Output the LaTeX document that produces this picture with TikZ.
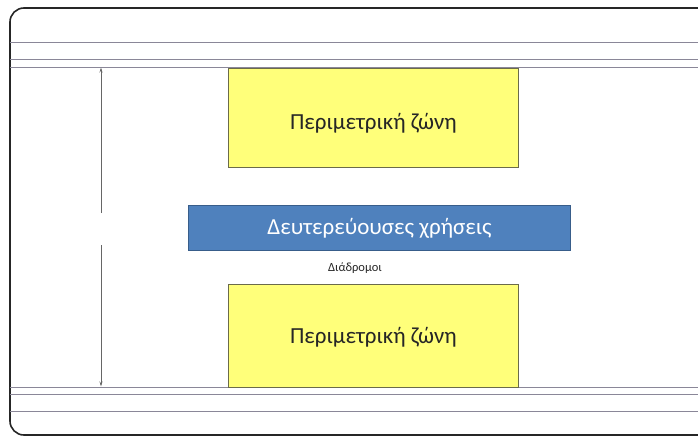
\documentclass[tikz,border=0pt]{standalone}
\usepackage{fontspec}
\setmainfont{Carlito}
\usetikzlibrary{arrows.meta}
\definecolor{zoneyellow}{HTML}{FFFF7A}
\definecolor{zoneborder}{HTML}{6B6B4A}
\definecolor{bluefill}{HTML}{4F81BD}
\definecolor{blueborder}{HTML}{385D8A}
\definecolor{linegray}{HTML}{8A8798}
\definecolor{textdark}{HTML}{262626}
\begin{document}
\begin{tikzpicture}[x=1pt,y=-1pt,
  zone/.style={draw=zoneborder, fill=zoneyellow, line width=0.9pt},
  bluebox/.style={draw=blueborder, fill=bluefill, line width=0.9pt},
  hline/.style={draw=linegray, line width=1pt},
  dimline/.style={draw=gray!80!black, line width=0.8pt},
  bigtext/.style={font=\fontsize{23}{26}\selectfont}]
\useasboundingbox (0,0) rectangle (698,437);
% outer frame
\draw[line width=1.6pt, rounded corners=14pt, draw=black!85] (10,8) rectangle (720,435);
% horizontal lines
\foreach \yy in {42,59,67,387,394,411}
  \draw[hline] (10,\yy) -- (698,\yy);
% zones
\node[zone, minimum width=290pt, minimum height=99pt, anchor=north west, inner sep=0pt] (top) at (228,67.5) {};
\node[bigtext, text=textdark] (toptext) at ([yshift=-6pt]top.center) {Περιμετρική ζώνη};
\node[zone, minimum width=290pt, minimum height=103pt, anchor=north west, inner sep=0pt] (bot) at (228,284) {};
\node[bigtext, text=textdark] (bottext) at ([yshift=-1pt]bot.center) {Περιμετρική ζώνη};
\node[bluebox, minimum width=382pt, minimum height=45pt, anchor=north west, inner sep=0pt] (mid) at (188,205) {};
\node[bigtext, text=white] (midtext) at (mid.center) {Δευτερεύουσες χρήσεις};
\node[font=\fontsize{12.5}{14}\selectfont, text=textdark] (corr) at (355,268) {Διάδρομοι};
% dimension line
\coordinate (dtop) at (101,67.5);
\coordinate (gapA) at (101,213);
\coordinate (gapB) at (101,245);
\coordinate (dbot) at (101,386.5);
\draw[dimline, -{Stealth[length=5pt,width=3pt]}] (gapA) -- (dtop);
\draw[dimline, -{Stealth[length=5pt,width=3pt]}] (gapB) -- (dbot);
\end{tikzpicture}
\end{document}
